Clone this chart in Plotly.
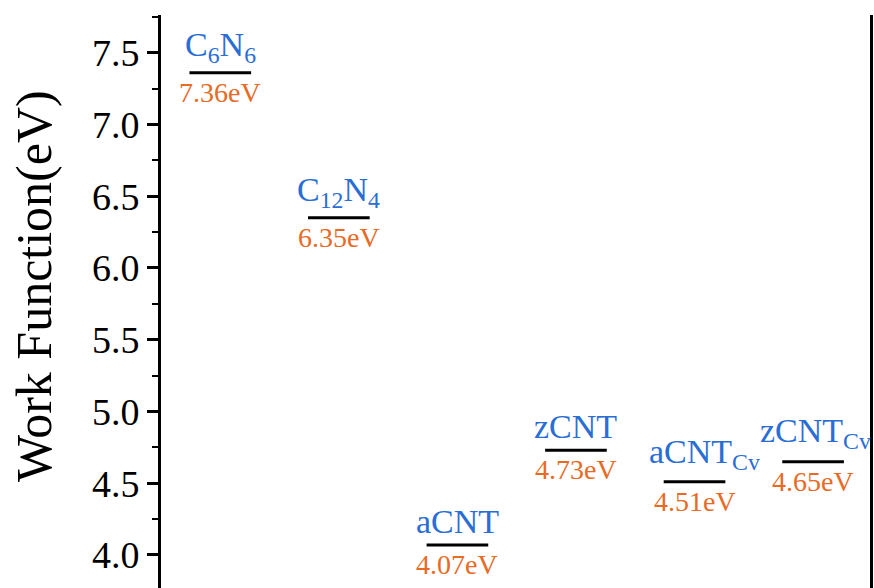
import plotly.graph_objects as go

# ---- data ----
materials = ["C<sub>6</sub>N<sub>6</sub>", "C<sub>12</sub>N<sub>4</sub>", "aCNT", "zCNT",
             "aCNT<sub>Cv</sub>", "zCNT<sub>Cv</sub>"]
work_function = [7.36, 6.35, 4.07, 4.73, 4.51, 4.65]
y_ticks = [4.0, 4.5, 5.0, 5.5, 6.0, 6.5, 7.0, 7.5]

positions = list(range(1, len(materials) + 1))
half_w = 0.26

BLUE = "#2a6ed4"
ORANGE = "#e86a24"
FONT = "Liberation Serif, Times New Roman, serif"

xs, ys = [], []
for p, v in zip(positions, work_function):
    xs += [p - half_w, p + half_w, None]
    ys += [v, v, None]

fig = go.Figure()
fig.add_trace(go.Scatter(x=xs, y=ys, mode="lines",
                         line=dict(color="black", width=3),
                         hoverinfo="skip", showlegend=False))

name_shift = [0, 0, 0, 0, 10, 2]
name_yshift = [3, 3, 3, 3, 5, 6]
for p, v, n, dx, dy in zip(positions, work_function, materials, name_shift, name_yshift):
    fig.add_annotation(x=p, y=v, text=n, showarrow=False,
                       xanchor="center", yanchor="bottom", xshift=dx, yshift=dy,
                       font=dict(family=FONT, size=34, color=BLUE))
    fig.add_annotation(x=p, y=v, text=f"{v:.2f}eV", showarrow=False,
                       xanchor="center", yanchor="top", yshift=-2,
                       font=dict(family=FONT, size=28, color=ORANGE))

fig.add_annotation(text="Work Function(eV)", xref="paper", yref="paper",
                   x=0, y=1 - (286 - 15) / (588 - 15), xshift=-127,
                   xanchor="center", yanchor="middle", textangle=-90,
                   showarrow=False, font=dict(family=FONT, size=50, color="black"))

fig.update_layout(
    width=874, height=588,
    margin=dict(l=161, r=4, t=15, b=0),
    paper_bgcolor="white", plot_bgcolor="white",
    xaxis=dict(range=[0.5, 6.48], visible=False),
    yaxis=dict(range=[3.770, 7.763], tickvals=y_ticks,
               ticktext=[f"{t:.1f}" for t in y_ticks],
               showline=True, linecolor="black", linewidth=3, mirror=True,
               ticks="outside", ticklen=11, tickwidth=2.5, tickcolor="black",
               showgrid=False, zeroline=False,
               tickfont=dict(family=FONT, size=38, color="black"),
               minor=dict(dtick=0.25, tick0=0, ticks="outside", ticklen=6,
                          tickwidth=2, tickcolor="black", showgrid=False)),
)

fig.write_html("out.html",
               config={"displayModeBar": False},
               post_script="document.body.style.margin='0px';"
                           "document.body.style.overflow='hidden';")
